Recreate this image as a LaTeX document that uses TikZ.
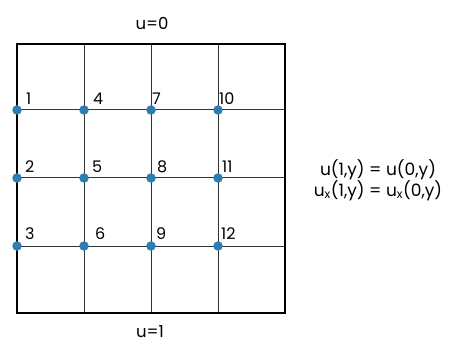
\documentclass[tikz,border=0pt]{standalone}
\usepackage{fontspec}
\setmainfont{Poppins}
\definecolor{dotblue}{RGB}{47,125,181}
\begin{document}
\begin{tikzpicture}[x=1pt,y=-1pt,
  gridline/.style={line width=1pt,black!80},
  border/.style={line width=2.8pt,black},
  dot/.style={circle,fill=dotblue,inner sep=0pt,minimum size=9.5pt},
  num/.style={anchor=base west,inner sep=0pt,font=\fontsize{16}{16}\selectfont},
  bc/.style={anchor=base,inner sep=0pt,font=\fontsize{16.5}{18}\selectfont},
  eq/.style={inner sep=0pt,font=\fontsize{17}{21}\selectfont,align=center}]
\useasboundingbox (0,0) rectangle (450,350);
% grid lines
\foreach \x in {84,151,218} \draw[gridline] (\x,44) -- (\x,313);
\foreach \y in {110,178,246} \draw[gridline] (17,\y) -- (285,\y);
\draw[border] (17,44) rectangle (285,313);
% dots
\node[dot] (d1) at (17,110) {};
\node[dot] (d2) at (17,178) {};
\node[dot] (d3) at (17,246) {};
\node[dot] (d4) at (84,110) {};
\node[dot] (d5) at (84,178) {};
\node[dot] (d6) at (84,246) {};
\node[dot] (d7) at (151,110) {};
\node[dot] (d8) at (151,178) {};
\node[dot] (d9) at (151,246) {};
\node[dot] (d10) at (218,110) {};
\node[dot] (d11) at (218,178) {};
\node[dot] (d12) at (218,246) {};
% labels
\node[num] (l1) at ([xshift=9pt,yshift=5pt]d1.center) {1};
\node[num] (l2) at ([xshift=8pt,yshift=6pt]d2.center) {2};
\node[num] (l3) at ([xshift=8pt,yshift=7pt]d3.center) {3};
\node[num] (l4) at ([xshift=9pt,yshift=5pt]d4.center) {4};
\node[num] (l5) at ([xshift=8pt,yshift=6pt]d5.center) {5};
\node[num] (l6) at ([xshift=11pt,yshift=7pt]d6.center) {6};
\node[num] (l7) at ([xshift=1pt,yshift=5pt]d7.center) {7};
\node[num] (l8) at ([xshift=6pt,yshift=6pt]d8.center) {8};
\node[num] (l9) at ([xshift=5pt,yshift=7pt]d9.center) {9};
\node[num] (l10) at ([xshift=1pt,yshift=5pt]d10.center) {10};
\node[num] (l11) at ([xshift=4pt,yshift=6pt]d11.center) {11};
\node[num] (l12) at ([xshift=3pt,yshift=7pt]d12.center) {12};
% boundary texts
\node[bc] (top) at (152,30) {u=0};
\node[bc] (bot) at (150,337) {u=1};
\node[eq] (cond) at (378,180) {u(1,y) = u(0,y)\\u\textsubscript{x}(1,y) = u\textsubscript{x}(0,y)};
\end{tikzpicture}
\end{document}
